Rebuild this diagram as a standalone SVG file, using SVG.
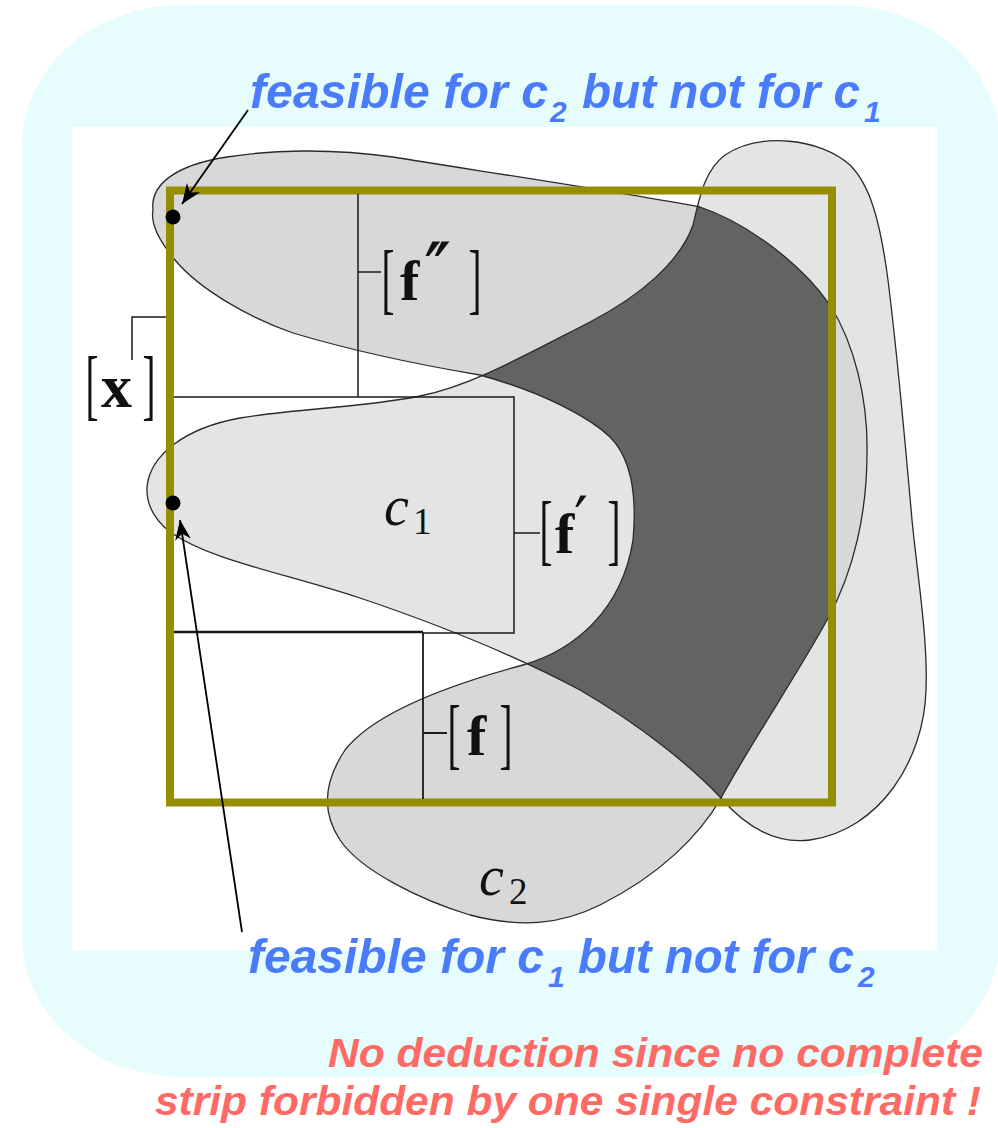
<svg xmlns="http://www.w3.org/2000/svg" width="998" height="1128" viewBox="0 0 998 1128">
<style>
.blue{font-family:"Liberation Sans",Arial,sans-serif;font-weight:bold;font-style:italic;font-size:49px;fill:#4A7BFA}
.sub{font-size:30px}
.red{font-family:"Liberation Sans",Arial,sans-serif;font-weight:bold;font-style:italic;font-size:40px;fill:#FF6A64}
.br{font-family:"Liberation Serif","Times New Roman",serif;font-size:78px;fill:#111}
.fb{font-family:"Liberation Serif","Times New Roman",serif;font-size:58px;font-weight:bold;fill:#111}
.pr{font-family:"DejaVu Serif","Liberation Serif",serif;fill:#111}
.ci{font-family:"Liberation Serif","Times New Roman",serif;font-style:italic;font-size:56px;fill:#111}
.cs{font-family:"Liberation Serif","Times New Roman",serif;font-size:37px;fill:#111}
.outline{fill:none;stroke:#2a2a2a;stroke-width:1.3}
.ln{fill:none;stroke:#1a1a1a;stroke-width:1.5}
.arrow{fill:none;stroke:#000;stroke-width:1.8;marker-end:url(#ah)}
</style>
<defs>
<marker id="ah" markerUnits="userSpaceOnUse" markerWidth="24" markerHeight="20" viewBox="-22 -10 24 20" refX="0" refY="0" orient="auto">
<path d="M0,0 L-20,-8 L-14,0 L-20,8 Z" fill="#000"/>
</marker>
<path id="c1p" d="M147,487 C150,455 185,428 240,418 C300,408 360,408 420,396 C470,386 520,358 590,322 C640,296 680,262 693,225 C700,195 705,170 725,155 C760,132 820,138 850,165 C870,185 880,220 888,280 C898,360 905,440 912,520 C918,580 928,640 926,690 C924,760 880,830 810,840 C770,845 740,820 721,798 C690,765 640,725 580,690 C520,658 440,625 360,598 C280,572 210,560 170,532 C155,520 146,505 147,487 Z"/>
<path id="c2p" d="M153,210 C150,185 175,165 227,157 C270,150 330,148 393,157 C460,168 620,192 700,207 C745,222 800,262 830,305 C855,345 868,400 867,453 C867,510 855,570 827,620 C800,670 750,745 721,798 C700,835 660,875 600,905 C560,925 520,928 470,915 C420,900 360,870 340,840 C320,810 325,780 345,750 C370,718 430,690 523,665 C575,650 622,610 633,540 C638,485 628,455 610,437 C590,418 545,393 480,375 C420,365 350,350 293,333 C250,318 200,290 175,260 C160,242 150,225 153,210 Z"/>
<clipPath id="clipC1"><use href="#c1p"/></clipPath>
<clipPath id="clipBox"><rect x="170" y="190" width="662" height="612"/></clipPath>
</defs>

<g id="background">
<rect x="22" y="5" width="978" height="1072" rx="160" ry="140" fill="#E6FCFD"/>
<rect x="72" y="127" width="865" height="824" fill="#FFFFFF"/>
</g>

<g id="constraint-c1">
<use href="#c1p" fill="#E4E4E4"/>
</g>
<g id="constraint-c2">
<use href="#c2p" fill="#D8D8D8"/>
</g>
<g id="intersection" clip-path="url(#clipBox)">
<use href="#c2p" fill="#636363" clip-path="url(#clipC1)"/>
</g>
<g id="outlines">
<use href="#c1p" class="outline"/>
<use href="#c2p" class="outline"/>
</g>

<g id="box-x">
<rect x="170" y="190.5" width="662" height="612" fill="none" stroke="#958E00" stroke-width="8"/>
</g>

<g id="connectors">
<path class="ln" d="M166,317 H132 V360"/>
<path class="ln" d="M358,194 V397 M358,272 H381"/>
<path class="ln" d="M174,397 H514 V633 H423 M514,533 H540"/>
<path class="ln" d="M174,632 H423" style="stroke-width:2.6"/>
<path class="ln" d="M423,632 V799 M423,733 H447" style="stroke-width:1.8"/>
<path class="arrow" d="M248,110 L182,204"/>
<path class="arrow" d="M242,932 L180,520"/>
</g>

<g id="point-top"><circle cx="173" cy="217" r="7.5" fill="#000"/></g>
<g id="point-bottom"><circle cx="173" cy="503" r="7.5" fill="#000"/></g>

<g id="label-x">
<text class="br" transform="translate(85.6,411) scale(0.5,1)">[</text>
<text class="fb" x="101" y="407" style="font-size:62px">x</text>
<text class="br" transform="translate(142.5,411) scale(0.5,1)">]</text>
</g>
<g id="label-f2">
<text class="br" transform="translate(381.6,305) scale(0.5,1)">[</text>
<text class="fb" x="400" y="300">f</text>
<text class="pr" x="424" y="300" style="font-size:80px;letter-spacing:-9px">′′</text>
<text class="br" transform="translate(468.5,305) scale(0.5,1)">]</text>
</g>
<g id="label-f1">
<text class="br" transform="translate(539.6,556) scale(0.5,1)">[</text>
<text class="fb" x="555" y="553">f</text>
<text class="pr" x="574" y="541" style="font-size:62px">′</text>
<text class="br" transform="translate(607.5,556) scale(0.5,1)">]</text>
</g>
<g id="label-f">
<text class="br" transform="translate(447.6,760) scale(0.5,1)">[</text>
<text class="fb" x="467" y="755">f</text>
<text class="br" transform="translate(499.5,760) scale(0.5,1)">]</text>
</g>
<g id="label-c1">
<text class="ci" x="384" y="525">c</text>
<text class="cs" x="413" y="534">1</text>
</g>
<g id="label-c2">
<text class="ci" x="479" y="895">c</text>
<text class="cs" x="509" y="904">2</text>
</g>

<g id="note-top">
<text class="blue" y="108"><tspan x="250" textLength="298" lengthAdjust="spacingAndGlyphs">feasible for c</tspan><tspan class="sub" x="550" dy="14">2</tspan><tspan x="582" dy="-14" textLength="278" lengthAdjust="spacingAndGlyphs">but not for c</tspan><tspan class="sub" x="864" dy="14">1</tspan></text>
</g>
<g id="note-bottom">
<text class="blue" y="973"><tspan x="248" textLength="296" lengthAdjust="spacingAndGlyphs">feasible for c</tspan><tspan class="sub" x="548" dy="14">1</tspan><tspan x="578" dy="-14" textLength="276" lengthAdjust="spacingAndGlyphs">but not for c</tspan><tspan class="sub" x="858" dy="14">2</tspan></text>
</g>
<g id="conclusion">
<text class="red" x="328" y="1067" textLength="655" lengthAdjust="spacingAndGlyphs">No deduction since no complete</text>
<text class="red" x="155" y="1115" textLength="826" lengthAdjust="spacingAndGlyphs">strip forbidden by one single constraint !</text>
</g>
</svg>
